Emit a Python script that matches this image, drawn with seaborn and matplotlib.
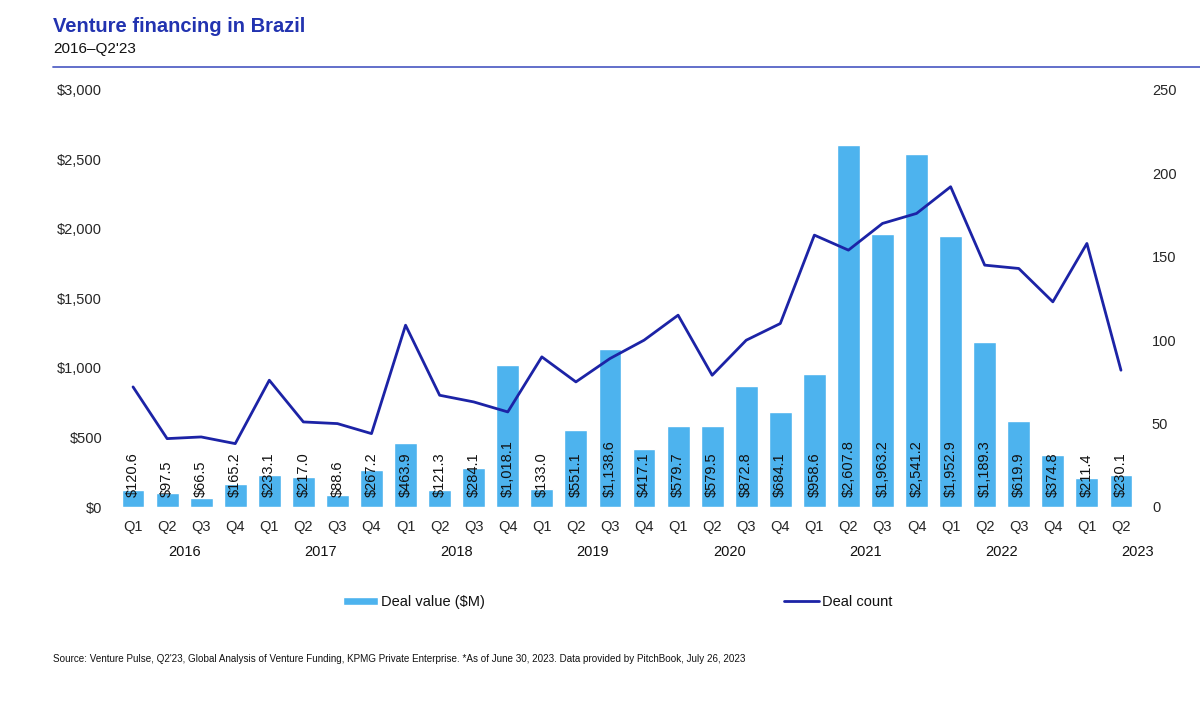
import numpy as np
import pandas as pd
import matplotlib
matplotlib.use("Agg")
import matplotlib.pyplot as plt
import matplotlib.transforms as mtransforms
import seaborn as sns

# ---- data ----
years = ["2016", "2017", "2018", "2019", "2020", "2021", "2022", "2023"]
quarters = ["Q1", "Q2", "Q3", "Q4"]
periods = [f"{q} {y}" for y in years for q in quarters][:30]
quarter_labels = [p.split()[0] for p in periods]
deal_value = [120.6, 97.5, 66.5, 165.2, 233.1, 217.0, 88.6, 267.2,
              463.9, 121.3, 284.1, 1018.1, 133.0, 551.1, 1138.6, 417.1,
              579.7, 579.5, 872.8, 684.1, 958.6, 2607.8, 1963.2, 2541.2,
              1952.9, 1189.3, 619.9, 374.8, 211.4, 230.1]
deal_count = [72, 41, 42, 38, 76, 51, 50, 44, 109, 67, 63, 57, 90, 75, 89, 100,
              115, 79, 100, 110, 163, 154, 170, 176, 192, 145, 143, 123, 158, 82]
left_ticks = [0, 500, 1000, 1500, 2000, 2500, 3000]
right_ticks = [0, 50, 100, 150, 200, 250]

df = pd.DataFrame({"period": periods, "value": deal_value, "count": deal_count,
                   "idx": np.arange(len(periods))})

BAR = "#4DB3EE"
LINE = "#1C23A6"
TITLE = "#2233B0"
FONT = ["Liberation Sans", "DejaVu Sans"]

sns.set_theme(style="white")
plt.rcParams["font.family"] = FONT
plt.rcParams["text.color"] = "#111111"

fig = plt.figure(figsize=(12, 7.11), dpi=100)
ax = fig.add_axes([116 / 1200, 1 - 507 / 711, (1138 - 116) / 1200, (507 - 90) / 711])

sns.barplot(data=df, x="period", y="value", color=BAR, saturation=1, width=0.67,
            ax=ax, label="Deal value ($M)", legend=False)
ax.set_xlim(-0.5, len(periods) - 0.5)
ax.set_ylim(0, 3000)
ax.set_yticks(left_ticks)
ax.set_yticklabels([f"${v:,.0f}" for v in left_ticks], fontsize=10.5)
ax.set_xticks(range(len(periods)))
ax.set_xticklabels(quarter_labels, fontsize=10.5)
ax.tick_params(axis="y", length=0, pad=10)
ax.tick_params(axis="x", length=0, pad=9)
ax.set_xlabel("")
ax.set_ylabel("")
for s in ax.spines.values():
    s.set_visible(False)

for i, v in enumerate(deal_value):
    ax.annotate(f"${v:,.1f}", xy=(i, 0), xytext=(0, 7), textcoords="offset points",
                rotation=90, ha="center", va="bottom", fontsize=10.5, color="#111111")

trans = mtransforms.blended_transform_factory(ax.transData, ax.transAxes)
for k, y in enumerate(years):
    ax.text(4 * k + 1.5, -0.108, y, transform=trans, ha="center", va="center",
            fontsize=10.5)

ax2 = ax.twinx()
sns.lineplot(data=df, x="idx", y="count", color=LINE, lw=2, ax=ax2,
             label="Deal count", legend=False)
ax2.set_ylim(0, 250)
ax2.set_yticks(right_ticks)
ax2.set_yticklabels([str(v) for v in right_ticks], fontsize=10.5)
ax2.tick_params(axis="y", length=0, pad=10)
ax2.set_ylabel("")
ax2.set_xlabel("")
for s in ax2.spines.values():
    s.set_visible(False)
ax.set_xlim(-0.5, len(periods) - 0.5)

# legend
h1, l1 = ax.get_legend_handles_labels()
h2, l2 = ax2.get_legend_handles_labels()
fig.legend(h1[:1] + h2, l1[:1] + l2, loc="center", bbox_to_anchor=(618 / 1200, 1 - 602 / 711),
           ncol=2, frameon=False, fontsize=10.5, columnspacing=20.5, handlelength=2.4,
           handleheight=0.45, handletextpad=0.2)

# header
fig.text(53 / 1200, 1 - 27 / 711, "Venture financing in Brazil", fontsize=14.5,
         fontweight="bold", color=TITLE, va="center", ha="left")
fig.text(53 / 1200, 1 - 49 / 711, "2016\u2013Q2'23", fontsize=11, color="#111111",
         va="center", ha="left")
fig.add_artist(plt.Line2D([53 / 1200, 1.0], [1 - 67 / 711, 1 - 67 / 711],
                          transform=fig.transFigure, color="#5563C6", lw=1.3))
fig.text(53 / 1200, 1 - 659 / 711,
         "Source: Venture Pulse, Q2'23, Global Analysis of Venture Funding, KPMG Private Enterprise. "
         "*As of June 30, 2023. Data provided by PitchBook, July 26, 2023",
         fontsize=7.15, color="#111111", va="center", ha="left")

fig.savefig("out.png", dpi=100)
